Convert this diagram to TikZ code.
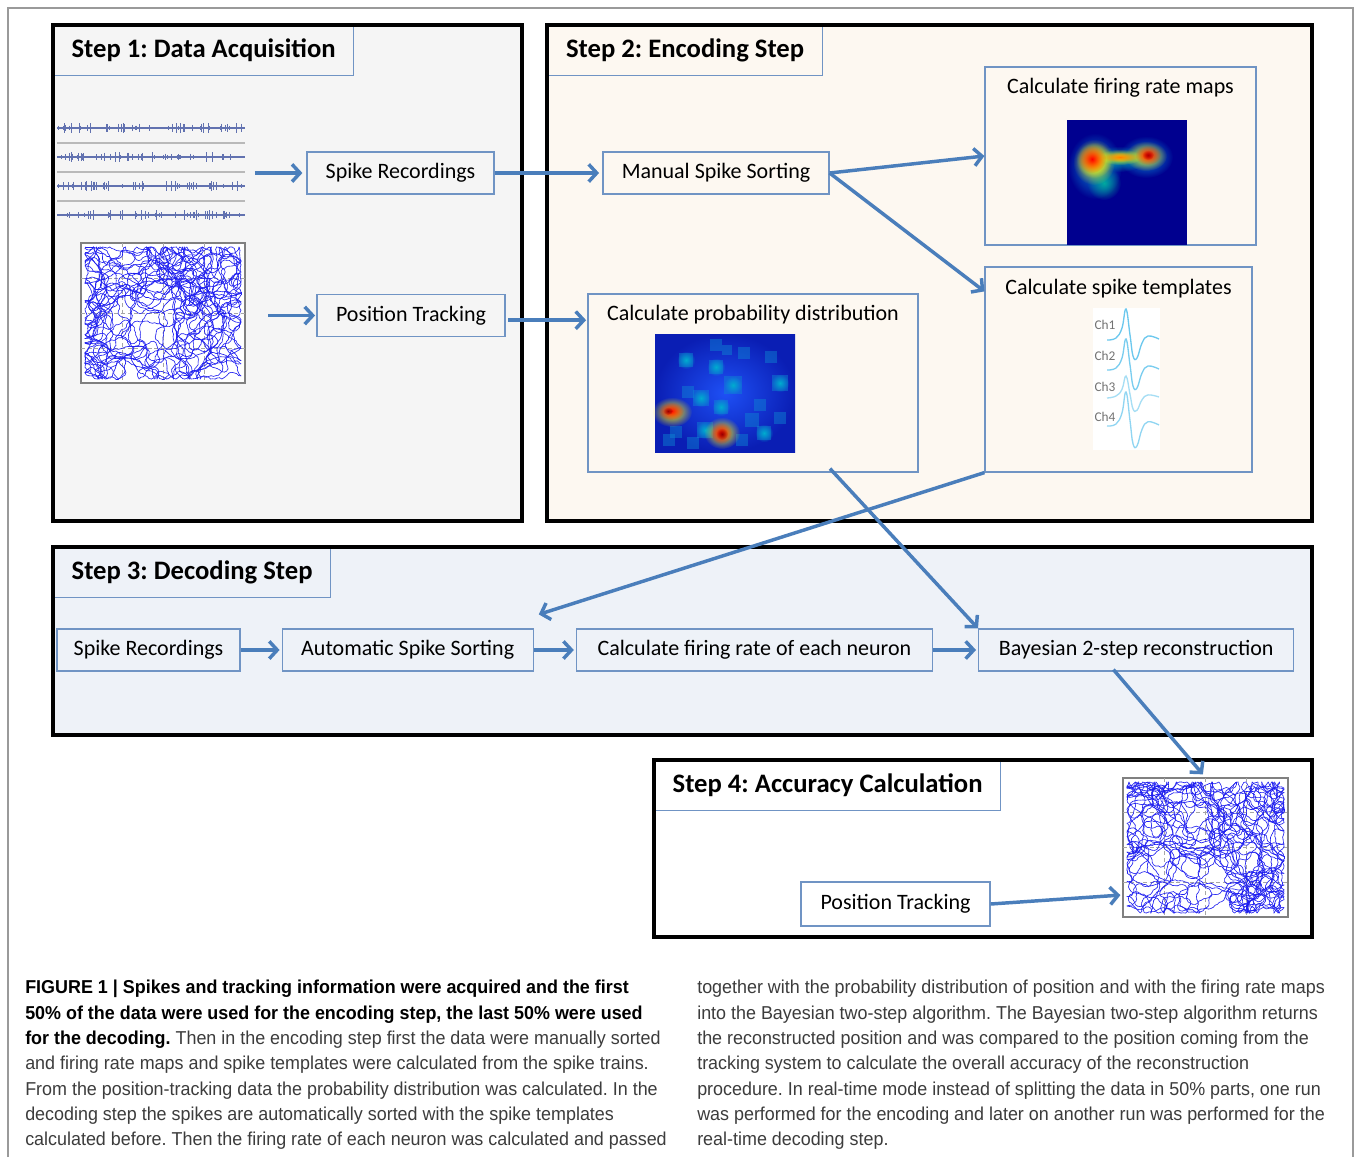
\documentclass[tikz,border=0pt]{standalone}
\usepackage{fontspec}
\setmainfont{Carlito}
\newfontfamily\capfont[FakeStretch=0.96]{Liberation Sans}
\usetikzlibrary{arrows.meta, positioning, fadings}
\tikzfading[name=fade out, inner color=transparent!0, outer color=transparent!100]

\definecolor{boxblue}{HTML}{7094C4}
\definecolor{arrblue}{HTML}{4A7EBB}
\definecolor{bgone}{HTML}{F5F5F5}
\definecolor{bgtwo}{HTML}{FDF8F1}
\definecolor{bgthree}{HTML}{EEF2F8}
\definecolor{jetdark}{HTML}{00008F}
\definecolor{probblue}{HTML}{1E50F5}
\definecolor{probdark}{HTML}{0A1EB4}
\definecolor{trackblue}{HTML}{1E1EF0}
\definecolor{tracecol}{HTML}{6272B0}
\definecolor{wavecol}{HTML}{6CC8EE}
\definecolor{captext}{HTML}{3C3C3C}
\definecolor{framegray}{HTML}{9A9A9A}

\tikzstyle{box}=[draw=boxblue, line width=0.9pt, inner sep=0pt,
  font=\fontsize{16.5}{18}\selectfont, minimum height=31.5pt]
\tikzstyle{title}=[box, font=\bfseries\fontsize{20}{22}\selectfont, minimum height=37.5pt]
\tikzstyle{bigbox}=[draw=boxblue, line width=0.9pt, inner sep=0pt]
\tikzstyle{frame}=[draw=black, line width=3pt]
\tikzstyle{flow}=[draw=arrblue, line width=2.6pt, -{Straight Barb[length=6pt,width=13pt]}]
\tikzstyle{plotframe}=[draw=gray, fill=white, line width=0.9pt, inner sep=0pt]
\tikzstyle{gridline}=[gray!70, densely dashed, line width=0.5pt]
\tikzstyle{trackline}=[trackblue, line width=0.45pt, line cap=round]
\tikzstyle{chlab}=[text=gray!90!black, font=\fontsize{10}{12}\selectfont, inner sep=0pt]
\tikzstyle{caption}=[inner sep=0pt, align=left, text=captext,
  font=\capfont\fontsize{14}{19}\selectfont]

% tracking plot: name, x1, y1, x2, y2, steps
\newcommand{\trackplot}[6]{%
  \node[plotframe, minimum width={(#4-#2)*0.75pt}, minimum height={(#5-#3)*0.75pt}]
    (#1) at ({(#2+#4)/2},{(#3+#5)/2}) {};
  \foreach \f in {0.25,0.5,0.75} {
    \draw[gridline] ({#2+(#4-#2)*\f},#3) -- ({#2+(#4-#2)*\f},#5);
    \draw[gridline] (#2,{#3+(#5-#3)*\f}) -- (#4,{#3+(#5-#3)*\f});
  }
  \pgfmathsetmacro\wx{(#2+#4)/2}\global\let\wx\wx
  \pgfmathsetmacro\wy{(#3+#5)/2}\global\let\wy\wy
  \xdef\wa{0}
  \foreach \i in {1,...,#6} {
    \pgfmathsetmacro\na{\wa+45*rand}
    \pgfmathsetmacro\nx{\wx+2.6*cos(\na)}
    \pgfmathsetmacro\ny{\wy+2.6*sin(\na)}
    \pgfmathsetmacro\na{or(\nx<#2+4,\nx>#4-4) ? 180-\na : \na}
    \pgfmathsetmacro\na{or(\ny<#3+4,\ny>#5-4) ? -\na : \na}
    \pgfmathsetmacro\na{mod(\na,360)}
    \pgfmathsetmacro\nx{min(max(\nx,#2+4),#4-4)}
    \pgfmathsetmacro\ny{min(max(\ny,#3+4),#5-4)}
    \draw[trackline] (\wx,\wy) -- (\nx,\ny);
    \xdef\wx{\nx}\xdef\wy{\ny}\xdef\wa{\na}
  }
}

\begin{document}
\frenchspacing
\begin{tikzpicture}[x=0.75pt, y=-0.75pt]
\useasboundingbox (0,0) rectangle (1356,1157);
\fill[white] (0,0) rectangle (1356,1157);
\draw[framegray, line width=0.8pt] (8,1157) -- (8,8) -- (1353,8) -- (1353,1157);

% step backgrounds
\fill[bgone] (53,25) rectangle (522,521);
\fill[bgtwo] (547,25) rectangle (1312,521);
\fill[bgthree] (53,547) rectangle (1312,735);
\fill[white] (654,760) rectangle (1312,937);

% titles
\node[title, anchor=north west, minimum width=225pt]    (t1) at (53,25)  {Step 1: Data Acquisition};
\node[title, anchor=north west, minimum width=206.25pt] (t2) at (547,25) {Step 2: Encoding Step};
\node[title, anchor=north west, minimum width=207.75pt] (t3) at (53,547) {Step 3: Decoding Step};
\node[title, anchor=north west, minimum width=259.5pt]  (t4) at (654,760) {Step 4: Accuracy Calculation};

% step 1
\pgfmathsetseed{7}
\node[inner sep=0, minimum width=141pt, minimum height=75pt] (trc) at (150.5,171) {};
\foreach \yy in {128,157,186,215} {
  \draw[tracecol, line width=1pt] (57,\yy) -- (245,\yy);
  \foreach \i in {1,...,45} {
    \pgfmathsetmacro\xx{58+186*rnd}
    \pgfmathsetmacro\hh{1.5+3.5*rnd}
    \draw[tracecol, line width=0.5pt] (\xx,\yy-\hh) -- (\xx,\yy+\hh);
  }
}
\foreach \yy in {143,172,201}
  \draw[gray!55, line width=0.8pt] (57,\yy) -- (245,\yy);

\pgfmathsetseed{3}
\trackplot{trk1}{81}{243}{245}{383}{4500}

\node[box, minimum width=140.25pt] (rec1) at (400.5,173)   {Spike Recordings};
\node[box, minimum width=141pt]    (pos1) at (411,315.5)   {Position Tracking};

% step 2
\node[box, minimum width=169.5pt] (mss) at (716,173) {Manual Spike Sorting};
\node[bigbox, minimum width=203.25pt, minimum height=133.5pt,
  label={[anchor=center, yshift=-15.75pt, font=\fontsize{16.5}{18}\selectfont]north:Calculate firing rate maps}]
  (frm) at (1120.5,156) {};
\node[bigbox, minimum width=200.25pt, minimum height=153.75pt,
  label={[anchor=center, yshift=-16.5pt, font=\fontsize{16.5}{18}\selectfont]north:Calculate spike templates}]
  (spt) at (1118.5,369.5) {};
\node[bigbox, minimum width=247.5pt, minimum height=133.5pt,
  label={[anchor=center, yshift=-15.75pt, font=\fontsize{16.5}{18}\selectfont]north:Calculate probability distribution}]
  (cpd) at (753,383) {};

% firing rate map
\node[inner sep=0, fill=jetdark, minimum width=90pt, minimum height=93.75pt] (rmap) at (1127,182.5) {};
\fill[cyan!80!blue, path fading=fade out] (1095,166) ellipse (27 and 33);
\fill[cyan!80!blue, path fading=fade out] (1146,157) ellipse (27 and 21);
\fill[cyan!60!green, path fading=fade out] (1119,159) ellipse (28 and 13);
\fill[cyan!50!green, path fading=fade out] (1104,183) ellipse (17 and 17);
\fill[yellow, path fading=fade out] (1094,162) ellipse (21 and 23);
\fill[yellow, path fading=fade out] (1094,160) ellipse (18 and 18);
\fill[yellow, path fading=fade out] (1146,156) ellipse (21 and 15);
\fill[yellow, path fading=fade out] (1120,157) ellipse (22 and 8);
\fill[orange, path fading=fade out] (1120,157) ellipse (18 and 5);
\fill[red, path fading=fade out] (1092,159) ellipse (14 and 14);
\fill[red, path fading=fade out] (1148,155) ellipse (13 and 10);
\fill[red!70!black, path fading=fade out] (1148,155) ellipse (6 and 5);

% probability map
\node[inner sep=0, minimum width=105pt, minimum height=88.5pt] (pmap) at (725,393) {};
\shade[inner color=probblue, outer color=probdark] (655,334) rectangle (795,452);
\foreach \cx/\cy/\s in {716/367/7, 701/398/8, 721/407/7, 764/433/7, 693/443/6, 780/383/8,
  744/353/6, 733/385/9, 686/360/7, 760/405/6, 705/430/8, 676/432/6, 771/357/6, 742/440/6,
  716/345/6, 752/420/7, 688/392/6, 727/350/5, 780/418/6, 669/440/6}
  \fill[cyan!70!blue, opacity=0.45] (\cx-\s,\cy-\s) rectangle (\cx+\s,\cy+\s);
\foreach \cx/\cy in {716/367, 701/398, 721/407, 764/433, 733/385, 686/360, 780/383, 705/430}
  \fill[cyan!80!green, path fading=fade out] (\cx-9,\cy-9) rectangle (\cx+9,\cy+9);
\fill[yellow, path fading=fade out] (672,412) ellipse (20 and 15);
\fill[yellow, path fading=fade out] (722,433) ellipse (18 and 16);
\fill[red, path fading=fade out] (671,411) ellipse (13 and 9);
\fill[red, path fading=fade out] (721,433) ellipse (11 and 11);
\fill[red!60!black, path fading=fade out] (722,434) ellipse (6 and 6);
\fill[red!60!black, path fading=fade out] (668,411) ellipse (5 and 4);

% spike templates
\node[inner sep=0, fill=white, minimum width=50.25pt, minimum height=106.5pt] (tpl) at (1126.5,379) {};
\node[chlab] (ch1) at (1105,325) {Ch1};
\node[chlab] (ch2) at (1105,356) {Ch2};
\node[chlab] (ch3) at (1105,387) {Ch3};
\node[chlab] (ch4) at (1105,417) {Ch4};
\foreach \yb/\op/\a in {339/1/1, 369/0.9/1, 397/0.6/0.7, 425/0.75/1.1}
  \draw[wavecol, line width=1pt, opacity=\op] plot[smooth, tension=0.7] coordinates
    {(1107,\yb+1) (1116,\yb-1) (1122,\yb-11*\a) (1126,\yb-30*\a) (1130,\yb-4*\a)
     (1133,\yb+17*\a) (1137,\yb+19*\a) (1142,\yb+4*\a) (1148,\yb-3*\a) (1159,\yb)};

% step 3
\node[box, minimum width=137.25pt] (rec3) at (148.5,650) {Spike Recordings};
\node[box, minimum width=188.25pt, right=30.75pt of rec3] (ass) {Automatic Spike Sorting};
\node[box, minimum width=267pt,    right=31.5pt of ass]   (cfr) {Calculate firing rate of each neuron};
\node[box, minimum width=236.25pt, right=33.75pt of cfr]  (bay) {Bayesian 2-step reconstruction};

% step 4
\pgfmathsetseed{11}
\trackplot{trk4}{1123}{778}{1288}{917}{4500}
\node[box, minimum width=141.75pt, minimum height=33pt] (pos4) at (895.5,904) {Position Tracking};

% frames
\draw[frame] (53,25) rectangle (522,521);
\draw[frame] (547,25) rectangle (1312,521);
\draw[frame] (53,547) rectangle (1312,735);
\draw[frame] (654,760) rectangle (1312,937);

% connectors
\draw[flow, shorten <=7.5pt, shorten >=3pt] (trc.east |- rec1.west) -- (rec1.west);
\draw[flow, shorten >=2.5pt] (rec1.east) -- (mss.west);
\draw[flow, shorten <=17pt, shorten >=1pt] (trk1.east |- pos1.west) -- (pos1.west);
\draw[flow, shorten <=2pt, shorten >=1pt] ([yshift=-3.5pt]pos1.east) -- ([yshift=-3.5pt]pos1.east -| cpd.west);
\draw[flow] (mss.east) -- (frm.west);
\draw[flow] (mss.east) -- ([yshift=-18.75pt]spt.north west);
\draw[flow] (spt.south west) -- ([shift={(3.75pt,10.5pt)}]ass.north east);
\draw[flow] ([shift={(57.75pt,3pt)}]cpd.south) -- (bay.north west);
\draw[flow, shorten >=1.5pt] (rec3) -- (ass);
\draw[flow, shorten >=1.5pt] (ass) -- (cfr);
\draw[flow, shorten >=1.5pt] (cfr) -- (bay);
\draw[flow, shorten >=3pt] ([shift={(-17pt,1.5pt)}]bay.south) -- (trk4.north);
\draw[flow, shorten >=1.5pt] (pos4.east) -- ([yshift=-35.6pt]trk4.west);

% caption
\node[caption, anchor=north west] (capl) at (25,980)
  {\textbf{\color{black}FIGURE 1 | Spikes and tracking information were acquired and the first}\\
   \textbf{\color{black}50\% of the data were used for the encoding step, the last 50\% were used}\\
   \textbf{\color{black}for the decoding.} Then in the encoding step first the data were manually sorted\\
   and firing rate maps and spike templates were calculated from the spike trains.\\
   From the position-tracking data the probability distribution was calculated. In the\\
   decoding step the spikes are automatically sorted with the spike templates\\
   calculated before. Then the firing rate of each neuron was calculated and passed};
\node[caption, anchor=north west] (capr) at (697,980)
  {together with the probability distribution of position and with the firing rate maps\\
   into the Bayesian two-step algorithm. The Bayesian two-step algorithm returns\\
   the reconstructed position and was compared to the position coming from the\\
   tracking system to calculate the overall accuracy of the reconstruction\\
   procedure. In real-time mode instead of splitting the data in 50\% parts, one run\\
   was performed for the encoding and later on another run was performed for the\\
   real-time decoding step.};
\end{tikzpicture}
\end{document}
